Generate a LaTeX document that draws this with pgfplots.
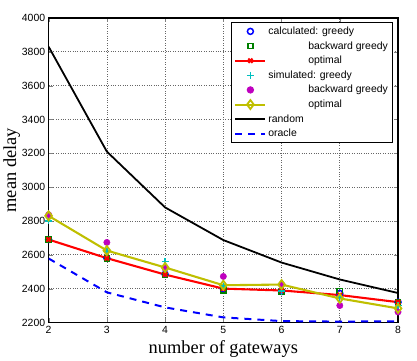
\documentclass[border=0pt]{standalone}
\usepackage{fontspec}
\setmainfont{Liberation Sans}
\newfontfamily\labelfont{Liberation Serif}
\usepackage{pgfplots}
\pgfplotsset{compat=1.18}

\definecolor{mblue}{rgb}{0,0,1}
\definecolor{mgreen}{rgb}{0,0.5,0}
\definecolor{mred}{rgb}{1,0,0}
\definecolor{mcyan}{rgb}{0,0.75,0.75}
\definecolor{mmag}{rgb}{0.75,0,0.75}
\definecolor{myel}{rgb}{0.75,0.75,0}

\begin{document}
\begin{tikzpicture}
\begin{axis}[
  scale only axis,
  width=350bp, height=305bp,
  xmin=2, xmax=8, ymin=2200, ymax=4000,
  xtick={2,3,4,5,6,7,8},
  ytick={2200,2400,2600,2800,3000,3200,3400,3600,3800,4000},
  /pgf/number format/assume math mode=true,
  /pgf/number format/1000 sep={},
  tick label style={font=\fontsize{10.5}{12}\selectfont},
  tick align=inside,
  major tick length=4bp,
  xtick pos=both, ytick pos=both,
  axis line style={line width=1.3pt},
  grid=major,
  major grid style={black!60, dotted, line width=0.7pt},
  xlabel={\labelfont number of gateways},
  ylabel={\labelfont mean delay},
  label style={font=\fontsize{18.5}{20}\selectfont},
  xlabel style={yshift=0bp},
  ylabel style={yshift=-5bp},
  legend cell align=left,
  legend style={at={(0.985,0.987)}, anchor=north east, draw=black, line width=0.9pt,
    fill=white, font=\fontsize{10.5}{12}\selectfont, inner sep=2.5bp,
    row sep=1.6bp},
  legend image code/.code={
    \draw[mark repeat=2,mark phase=2] plot coordinates {(0bp,0bp)(15bp,0bp)(30bp,0bp)};
  },
]
% calculated
\addplot[only marks, mark=o, mblue, mark size=3bp, line width=1.5pt]
  coordinates {(2,2690)(3,2580)(4,2485)(5,2398)(6,2383)(7,2372)(8,2320)};
\addlegendentry{calculated: greedy}
\addplot[only marks, mark=square, mgreen, mark size=2.6bp, line width=1.5pt]
  coordinates {(2,2690)(3,2580)(4,2480)(5,2390)(6,2380)(7,2385)(8,2320)};
\addlegendentry{\hspace*{40bp}backward greedy}
\addplot[mred, line width=2.1pt, mark=x, mark size=3bp]
  coordinates {(2,2690)(3,2580)(4,2483)(5,2400)(6,2389)(7,2362)(8,2320)};
\addlegendentry{\hspace*{40bp}optimal}
% simulated
\addplot[only marks, mark=+, mcyan, mark size=3.5bp, line width=1.4pt]
  coordinates {(2,2800)(3,2620)(4,2560)(5,2415)(6,2385)(7,2350)(8,2300)};
\addlegendentry{simulated: greedy}
\addplot[only marks, mark=*, mmag, mark size=3.2bp]
  coordinates {(2,2837)(3,2673)(4,2520)(5,2472)(6,2424)(7,2300)(8,2262)};
\addlegendentry{\hspace*{40bp}backward greedy}
\addplot[myel, line width=2.1pt, mark=diamond, mark size=4.5bp, mark options={line width=1.8pt}]
  coordinates {(2,2830)(3,2625)(4,2525)(5,2420)(6,2424)(7,2342)(8,2283)};
\addlegendentry{\hspace*{40bp}optimal}
% bounds
\addplot[black, line width=1.8pt]
  coordinates {(2,3830)(3,3210)(4,2880)(5,2687)(6,2554)(7,2454)(8,2374)};
\addlegendentry{random}
\addplot[mblue, line width=2pt, dash pattern=on 7bp off 6bp]
  coordinates {(2,2578)(3,2378)(4,2289)(5,2230)(6,2208)(7,2205)(8,2207)};
\addlegendentry{oracle}
\end{axis}
\path (current axis.south west) +(-48bp,-35bp);
\path (current axis.north east) +(19bp,18bp);
\end{tikzpicture}
\end{document}
